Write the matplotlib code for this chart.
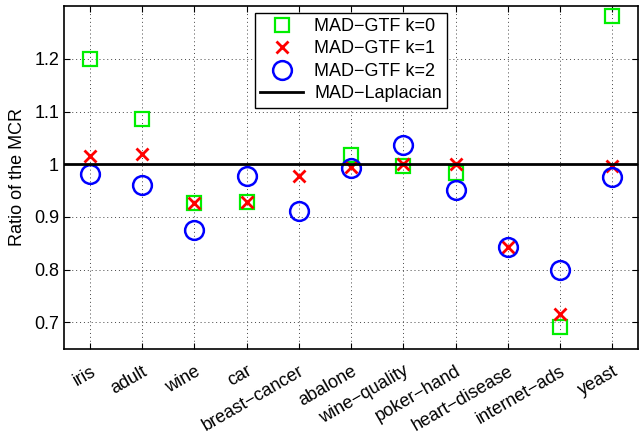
import numpy as np
from matplotlib import pyplot as plt

plt.rcParams['font.family'] = ['Liberation Sans', 'DejaVu Sans']

# 数据集名称
datasets = ['iris', 'adult', 'wine', 'car', 'breast−cancer', 'abalone',
            'wine−quality', 'poker−hand', 'heart−disease', 'internet−ads', 'yeast']

# 各方法相对 MAD-Laplacian 的 MCR 比值
ratio_k0 = [1.200, 1.085, 0.927, 0.928, np.nan, 1.017, 0.996, 0.984, np.nan, 0.692, 1.282]
ratio_k1 = [1.016, 1.020, 0.927, 0.929, 0.978, 0.995, 1.001, 1.001, 0.843, 0.716, 0.997]
ratio_k2 = [0.981, 0.961, 0.876, 0.978, 0.911, 0.992, 1.036, 0.951, 0.843, 0.800, 0.976]
baseline = 1.0

y_ticks = [0.7, 0.8, 0.9, 1.0, 1.1, 1.2]
y_tick_labels = ['0.7', '0.8', '0.9', '1', '1.1', '1.2']


def main():
    fig = plt.figure(figsize=(6.39, 4.36), dpi=100)
    ax = fig.add_axes([0.1, 0.2, 0.899, 0.786])

    x = np.arange(1, len(datasets) + 1)

    ax.plot(x, ratio_k0, linestyle='none', marker='s', markersize=10.5,
            markerfacecolor='none', markeredgecolor='#00ee00', markeredgewidth=1.6,
            label='MAD−GTF k=0')
    ax.plot(x, ratio_k1, linestyle='none', marker='x', markersize=8.5,
            color='red', markeredgewidth=2.0, label='MAD−GTF k=1')
    ax.plot(x, ratio_k2, linestyle='none', marker='o', markersize=13.5,
            markerfacecolor='none', markeredgecolor='blue', markeredgewidth=1.8,
            label='MAD−GTF k=2')
    ax.axhline(baseline, color='black', linewidth=2.0, label='MAD−Laplacian')

    ax.set_xlim(0.5, 11.5)
    ax.set_ylim(0.65, 1.3)
    ax.set_xticks(x)
    ax.set_xticklabels(datasets, rotation=30, ha='right', rotation_mode='anchor',
                       fontsize=13)
    ax.set_yticks(y_ticks)
    ax.set_yticklabels(y_tick_labels, fontsize=13)
    ax.set_ylabel('Ratio of the MCR', fontsize=13, labelpad=6)

    ax.tick_params(direction='in', top=True, right=True, length=4, width=0.8)
    ax.tick_params(axis='x', pad=10)
    ax.grid(True, linestyle=(0, (1, 3)), color='#444444', linewidth=0.7)
    for spine in ax.spines.values():
        spine.set_linewidth(1.2)

    # 图例放在上方中间偏左
    leg = ax.legend(loc='upper left', bbox_to_anchor=(0.332, 0.981), fontsize=13,
                    fancybox=False, framealpha=1, edgecolor='black',
                    handlelength=2.4, borderpad=0.3, labelspacing=0.3,
                    handletextpad=0.6, borderaxespad=0)
    leg.get_frame().set_linewidth(1.0)

    fig.savefig('out.png', dpi=100)


if __name__ == '__main__':
    main()
